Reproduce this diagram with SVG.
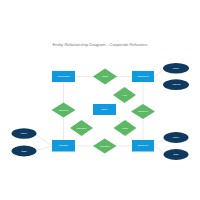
<svg xmlns="http://www.w3.org/2000/svg" width="200" height="200" viewBox="0 0 200 200">
<style>
.bg{fill:#ffffff}
.ent rect{fill:#1199dd}
.rel polygon{fill:#5cb865}
.att ellipse{fill:#0d3a5e}
text{font-family:"Liberation Sans",Arial,sans-serif;fill:#ffffff;text-anchor:middle;dominant-baseline:central;font-size:2.4px}
.title{fill:#7a7a7a;font-size:4.3px}
#connectors line{stroke:#e6e6e6;stroke-width:0.8}
</style>
<rect class="bg" x="0" y="0" width="200" height="200"/>
<text class="title" x="100" y="44.5">Entity Relationship Diagram - Corporate Relations</text>
<g id="connectors">
<line x1="75" y1="76.5" x2="132" y2="76.5"/>
<line x1="63.5" y1="82" x2="63.5" y2="140"/>
<line x1="143" y1="82" x2="143" y2="140"/>
<line x1="154" y1="76.5" x2="166" y2="68"/>
<line x1="154" y1="76.5" x2="166" y2="85"/>
<line x1="116" y1="104" x2="132" y2="82"/>
<line x1="93" y1="115" x2="75" y2="140"/>
<line x1="116" y1="115" x2="132" y2="140"/>
<line x1="75" y1="146" x2="132" y2="146"/>
<line x1="52" y1="146" x2="34" y2="133.5"/>
<line x1="52" y1="146" x2="34" y2="151"/>
<line x1="154" y1="146" x2="166" y2="137.5"/>
<line x1="154" y1="146" x2="166" y2="154"/>
</g>
<g id="corporation" class="ent"><rect x="52" y="71" width="23" height="11"/><text x="63.5" y="76.5">Corporation</text></g>
<g id="statement" class="ent"><rect x="132" y="71" width="22" height="11"/><text x="143" y="76.5">Statement</text></g>
<g id="entity" class="ent"><rect x="93" y="104" width="23" height="11"/><text x="104.5" y="109.5">Entity</text></g>
<g id="manager" class="ent"><rect x="52" y="140" width="23" height="11.5"/><text x="63.5" y="145.8">Manager</text></g>
<g id="employee" class="ent"><rect x="132" y="140" width="22" height="11.5"/><text x="143" y="145.8">Employee</text></g>
<g id="owns" class="rel"><polygon points="105,68.5 117,76.5 105,84.5 93,76.5"/><text x="105" y="76.5">Owns</text></g>
<g id="has" class="rel"><polygon points="124.5,87 136,95 124.5,103 113,95"/><text x="124.5" y="95">Has</text></g>
<g id="employs1" class="rel"><polygon points="63.5,102.5 75.5,110 63.5,117.5 51.5,110"/><text x="63.5" y="110">Employs</text></g>
<g id="employs2" class="rel"><polygon points="143,104 155,111.5 143,119 131,111.5"/><text x="143" y="111.5">Employs</text></g>
<g id="manages1" class="rel"><polygon points="81.5,120 93,128 81.5,136 70,128"/><text x="81.5" y="128">Manages</text></g>
<g id="work" class="rel"><polygon points="125,120 136.5,128 125,136 113.5,128"/><text x="125" y="128">Work</text></g>
<g id="manages2" class="rel"><polygon points="104.7,138.5 116.5,146 104.7,153.5 93,146"/><text x="104.7" y="146">Manages</text></g>
<g id="name1" class="att"><ellipse cx="176" cy="68.3" rx="13" ry="5.2"/><text x="176" y="68.3">Name</text></g>
<g id="address" class="att"><ellipse cx="176" cy="84.7" rx="13" ry="5.4"/><text x="176" y="84.7">Address</text></g>
<g id="name2" class="att"><ellipse cx="24" cy="133.5" rx="12.5" ry="5.2"/><text x="24" y="133.5">Name</text></g>
<g id="ssn1" class="att"><ellipse cx="24" cy="151" rx="12.5" ry="5.4"/><text x="24" y="151">SSN</text></g>
<g id="name3" class="att"><ellipse cx="176" cy="137.5" rx="12.5" ry="5.4"/><text x="176" y="137.5">Name</text></g>
<g id="ssn2" class="att"><ellipse cx="176" cy="154.5" rx="12.5" ry="5.4"/><text x="176" y="154.5">SSN</text></g>
</svg>
